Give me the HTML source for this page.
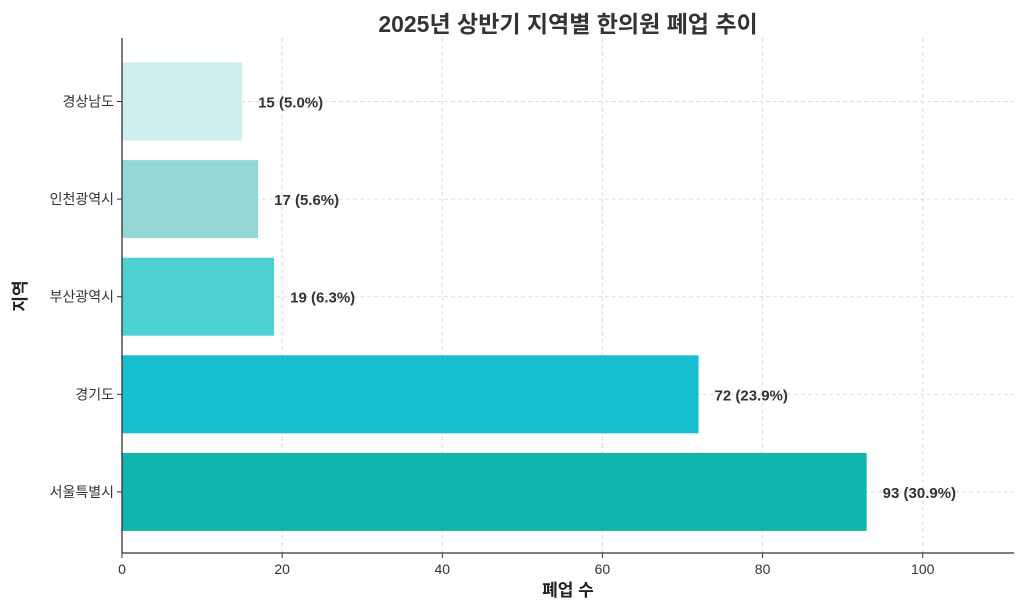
<!DOCTYPE html>
<html><head><meta charset="utf-8"><style>
body{margin:0;background:#fff;}
svg text{font-family:"Liberation Sans","Noto Sans CJK KR",sans-serif;}
</style></head><body>
<svg width="1024" height="611" viewBox="0 0 1024 611" id="chart">
<text x="568" y="32" text-anchor="middle" font-size="23" font-weight="bold" fill="#333">2025년 상반기 지역별 한의원 폐업 추이</text>
<g id="grid"></g><g id="bars"></g><g id="axes"></g>
<text x="568" y="596" text-anchor="middle" font-size="17" font-weight="bold" fill="#222">폐업 수</text>
<text x="0" y="0" transform="translate(26,296) rotate(-90)" text-anchor="middle" font-size="17" font-weight="bold" fill="#222">지역</text>
</svg>
<script>
const categories=["경상남도","인천광역시","부산광역시","경기도","서울특별시"];
const values=[15,17,19,72,93];
const labels=["15 (5.0%)","17 (5.6%)","19 (6.3%)","72 (23.9%)","93 (30.9%)"];
const colors=["#ceeeee","#93d8d6","#4ed1d2","#17bed0","#11b6ae"];
const xTicks=[0,20,40,60,80,100];
const NS="http://www.w3.org/2000/svg";
const L=122,R=1014,T=38,B=553,XMAX=111.4;
const x=v=>L+v/XMAX*(R-L);
const band=97.6, y0=101.5;
const yc=i=>y0+i*band;
function mk(t,a,p){const e=document.createElementNS(NS,t);for(const k in a)e.setAttribute(k,a[k]);p.appendChild(e);return e;}
const g=document.getElementById('grid'),b=document.getElementById('bars'),ax=document.getElementById('axes');
xTicks.forEach(v=>{const l=mk('line',{x1:x(v),x2:x(v),y1:T,y2:B,stroke:'#ddd','stroke-dasharray':'4,3'},g);

const t=mk('line',{x1:x(v),x2:x(v),y1:B,y2:B+5,stroke:'#333'},ax);

const tx=mk('text',{x:x(v),y:B+21,'text-anchor':'middle','font-size':14,fill:'#333'},ax);tx.textContent=v;
});
categories.forEach((c,i)=>{const l=mk('line',{x1:L,x2:R,y1:yc(i),y2:yc(i),stroke:'#ddd','stroke-dasharray':'4,3'},g);

const h=78;const r=mk('rect',{x:L,y:yc(i)-h/2,width:x(values[i])-L,height:h,fill:colors[i]},b);

const vt=mk('text',{x:x(values[i])+16,y:yc(i)+6,'font-size':15,'font-weight':'bold',fill:'#333'},b);vt.textContent=labels[i];

const t=mk('line',{x1:L-5,x2:L,y1:yc(i),y2:yc(i),stroke:'#333'},ax);

const ct=mk('text',{x:L-8,y:yc(i)+5,'text-anchor':'end','font-size':14,fill:'#333'},ax);ct.textContent=c;
});
const s1=mk('line',{x1:L,x2:L,y1:T,y2:B,stroke:'#333','stroke-width':1.3},ax);

const s2=mk('line',{x1:L,x2:R,y1:B,y2:B,stroke:'#333','stroke-width':1.3},ax);

</script>
</body></html>
